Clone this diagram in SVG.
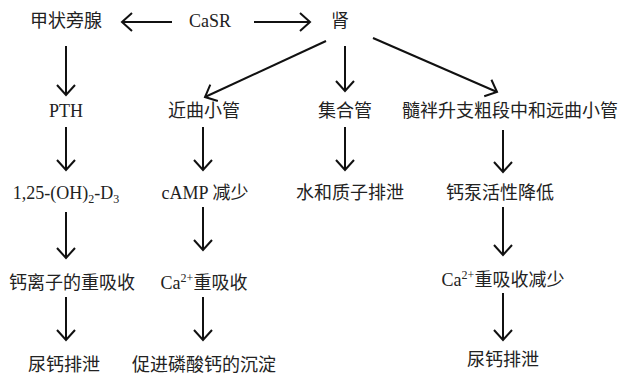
<svg xmlns="http://www.w3.org/2000/svg" width="620" height="379" viewBox="0 0 620 379">
<defs>
<style>
text{font-family:"Liberation Serif","Noto Sans CJK SC",serif;font-size:18px;fill:#222;text-anchor:middle}
.c line{stroke:#111;stroke-width:2;fill:none}
</style>
<marker id="ah" markerUnits="userSpaceOnUse" markerWidth="24" markerHeight="24" refX="12" refY="12" orient="auto" viewBox="0 0 24 24">
<path d="M2,3 L12,12 L2,21" fill="none" stroke="#111" stroke-width="2"/>
</marker>
</defs>
<rect width="620" height="379" fill="#fff"/>
<g id="n-jzpx"><text x="66" y="27">甲状旁腺</text></g>
<g id="n-casr"><text x="210" y="27">CaSR</text></g>
<g id="n-shen"><text x="340" y="27">肾</text></g>
<g id="n-pth"><text x="66" y="117">PTH</text></g>
<g id="n-d3"><text x="66" y="199">1,25-(OH)<tspan font-size="12" dy="4">2</tspan><tspan dy="-4">-D</tspan><tspan font-size="12" dy="4">3</tspan></text></g>
<g id="n-gczxs"><text x="72" y="289">钙离子的重吸收</text></g>
<g id="n-ngpx1"><text x="64" y="371">尿钙排泄</text></g>
<g id="n-jqxg"><text x="204" y="117">近曲小管</text></g>
<g id="n-camp"><text x="205" y="199">cAMP 减少</text></g>
<g id="n-ca1"><text x="204" y="289">Ca<tspan font-size="12" dy="-7">2+</tspan><tspan dy="7">重吸收</tspan></text></g>
<g id="n-cj"><text x="204" y="371">促进磷酸钙的沉淀</text></g>
<g id="n-jhg"><text x="345" y="117">集合管</text></g>
<g id="n-szpx"><text x="350" y="199">水和质子排泄</text></g>
<g id="n-sp"><text x="510" y="117">髓袢升支粗段中和远曲小管</text></g>
<g id="n-gb"><text x="500" y="199">钙泵活性降低</text></g>
<g id="n-ca2"><text x="503" y="286">Ca<tspan font-size="12" dy="-7">2+</tspan><tspan dy="7">重吸收减少</tspan></text></g>
<g id="n-ngpx2"><text x="503" y="366">尿钙排泄</text></g>
<g class="c" id="connectors" marker-end="url(#ah)">
<line x1="172" y1="22" x2="122" y2="22" marker-end="url(#ah)"/>
<line x1="254" y1="22" x2="310" y2="22" marker-end="url(#ah)"/>
<line x1="66" y1="46" x2="66" y2="95" marker-end="url(#ah)"/>
<line x1="66" y1="127" x2="66" y2="170" marker-end="url(#ah)"/>
<line x1="66" y1="212" x2="66" y2="258" marker-end="url(#ah)"/>
<line x1="66" y1="297" x2="66" y2="340" marker-end="url(#ah)"/>
<line x1="326" y1="41" x2="205" y2="97" marker-end="url(#ah)"/>
<line x1="345" y1="46" x2="345" y2="91" marker-end="url(#ah)"/>
<line x1="373" y1="38" x2="497" y2="92" marker-end="url(#ah)"/>
<line x1="203" y1="127" x2="203" y2="170" marker-end="url(#ah)"/>
<line x1="203" y1="207" x2="203" y2="250" marker-end="url(#ah)"/>
<line x1="203" y1="297" x2="203" y2="340" marker-end="url(#ah)"/>
<line x1="345" y1="127" x2="345" y2="170" marker-end="url(#ah)"/>
<line x1="503" y1="130" x2="503" y2="172" marker-end="url(#ah)"/>
<line x1="503" y1="207" x2="503" y2="255" marker-end="url(#ah)"/>
<line x1="503" y1="293" x2="503" y2="340" marker-end="url(#ah)"/>
</g>
</svg>
